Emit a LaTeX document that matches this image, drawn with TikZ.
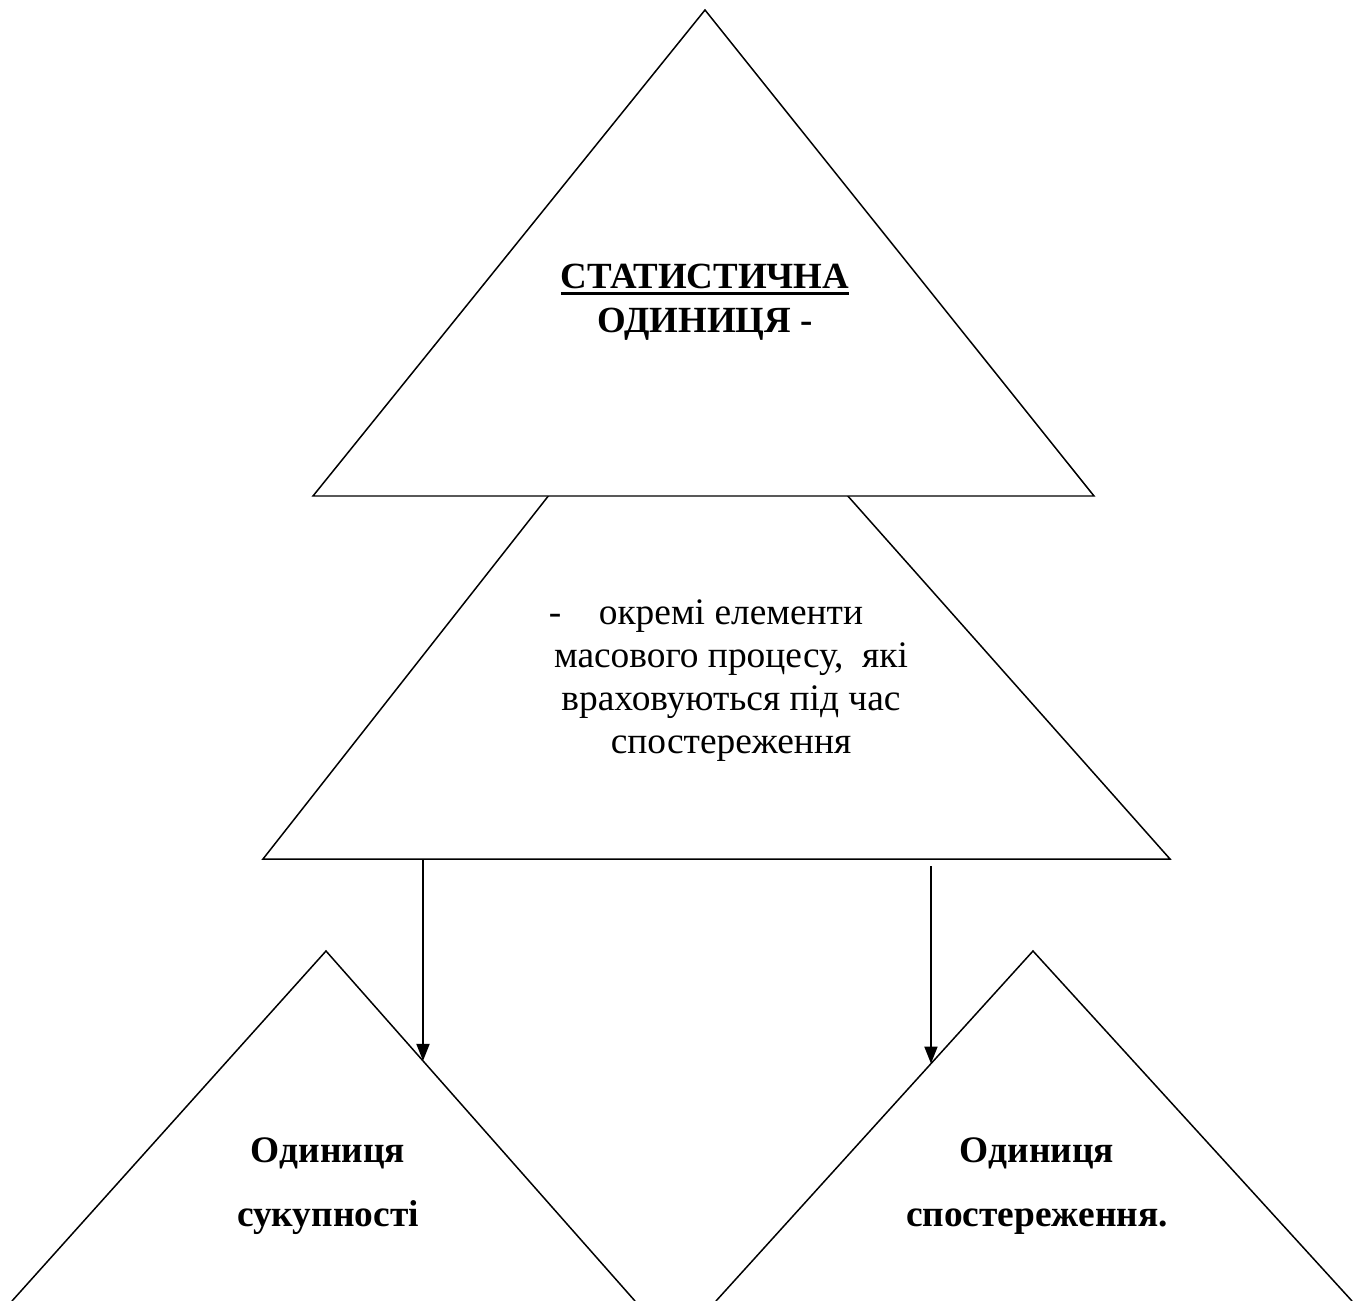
\documentclass[tikz,border=0pt]{standalone}
\usepackage{fontspec}
\setmainfont{Liberation Serif}
\usetikzlibrary{arrows.meta}
\newcommand{\ulbold}[1]{{\setbox0\hbox{#1}\rlap{\rule[-0.13cm]{\wd0}{0.06cm}}\box0}}
\tikzset{
  tri/.style={draw=black,line width=0.85pt,fill=white,line join=miter},
  side/.style={draw=black,line width=0.85pt},
  arrow/.style={-{Triangle[length=0.34cm,width=0.26cm]},line width=1.1pt},
  headtext/.style={align=center,font=\fontsize{21}{25}\selectfont\bfseries,inner sep=0pt},
  bodytext/.style={align=center,font=\fontsize{21.3}{24.5}\selectfont,inner sep=0pt},
  unittext/.style={align=center,font=\fontsize{21.3}{36.4}\selectfont\bfseries,inner sep=0pt}
}

\begin{document}
\begin{tikzpicture}[x=0.02cm,y=-0.02cm]
  \useasboundingbox (0,0) rectangle (1360,1301);

  % vertices
  \coordinate (ta) at (705,10);   \coordinate (tl) at (313,496);  \coordinate (tr) at (1094,496);
  \coordinate (ma) at (689,317);  \coordinate (ml) at (263,859);  \coordinate (mr) at (1170,859);
  \coordinate (la) at (326,951);  \coordinate (ll) at (12,1301);  \coordinate (lr) at (635,1301);
  \coordinate (ra) at (1033,951); \coordinate (rl) at (716,1301); \coordinate (rr) at (1352,1301);

  % middle one first, the top one covers its apex
  \draw[tri] (ma) -- (ml) -- (mr) -- cycle;
  \draw[tri] (ta) -- (tl) -- (tr) -- cycle;
  \draw[side] (ll) -- (la) -- (lr);
  \draw[side] (rl) -- (ra) -- (rr);

  \node[headtext] (title) at (705,302) {\ulbold{СТАТИСТИЧНА}\\ОДИНИЦЯ -};
  \node[bodytext] (defn) at (731,681) {-\hspace{1em}окремі елементи\hspace*{1cm}\\масового процесу,~ які\\враховуються під час\\спостереження};
  \node[unittext] (popunit) at (328,1186) {Одиниця\\сукупності};
  \node[unittext] (obsunit) at (1037,1186) {Одиниця\\спостереження.};

  % arrows
  \coordinate (s1) at (423,859);  \coordinate (e1) at (423,1301);
  \coordinate (s2) at (931,866);  \coordinate (e2) at (931,1301);
  \coordinate (t1) at (intersection of s1--e1 and la--lr);
  \coordinate (t2) at (intersection of s2--e2 and ra--rl);
  \draw[arrow] (s1) -- (t1);
  \draw[arrow] (s2) -- (t2);
\end{tikzpicture}
\end{document}
